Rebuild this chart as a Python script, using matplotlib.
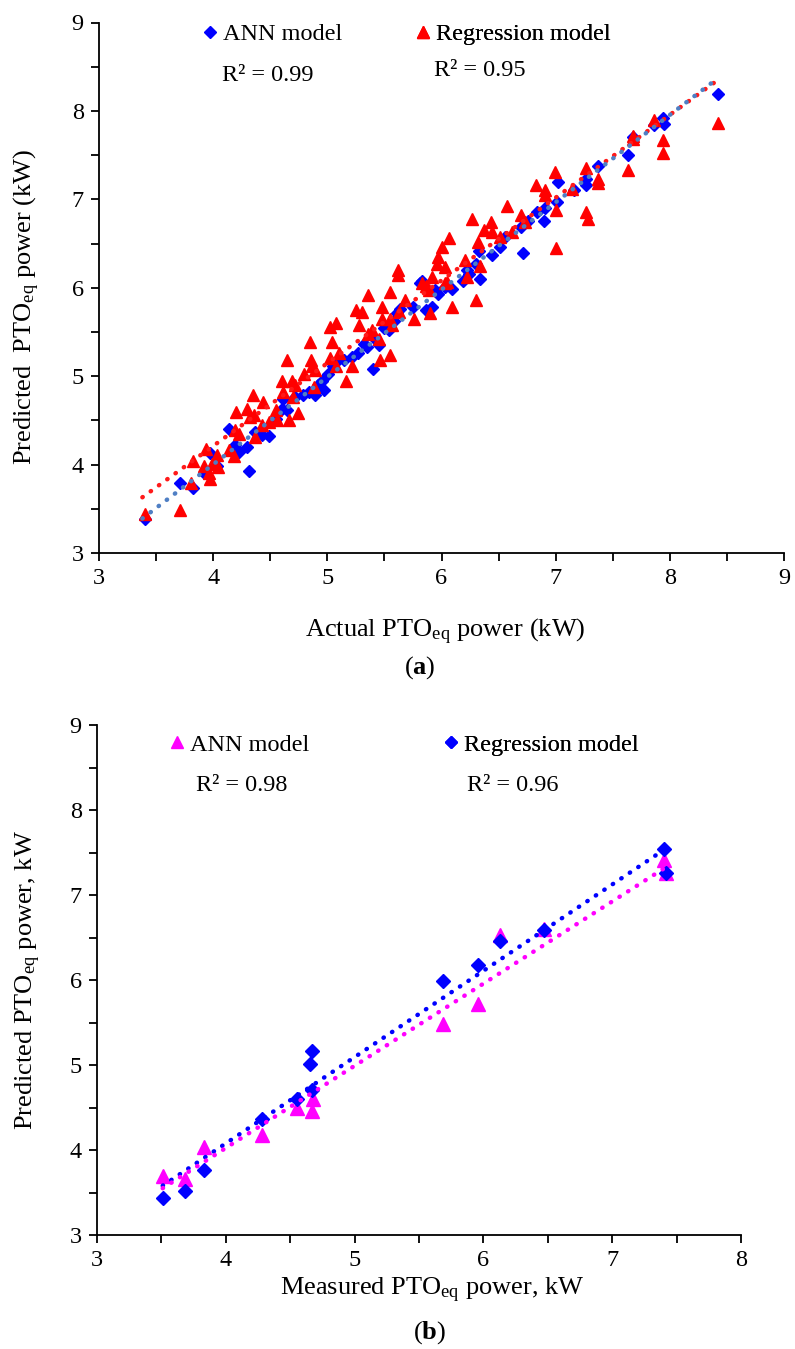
import matplotlib
matplotlib.use("Agg")
import matplotlib.pyplot as plt
from matplotlib.lines import Line2D
from matplotlib.ticker import MultipleLocator

plt.rcParams['font.family'] = ['Liberation Serif', 'DejaVu Serif']
plt.rcParams['mathtext.fontset'] = 'custom'
plt.rcParams['mathtext.rm'] = 'Liberation Serif'
plt.rcParams['mathtext.it'] = 'Liberation Serif:italic'
plt.rcParams['mathtext.bf'] = 'Liberation Serif:bold'

# ---------------- Panel (a) data ----------------
ann_a_x = [3.40, 3.71, 3.82, 3.92, 3.97, 4.03, 4.14, 4.19, 4.23, 4.30, 4.31, 4.37, 4.43, 4.49,
           4.55, 4.60, 4.65, 4.61, 4.72, 4.79, 4.84, 4.89, 4.92, 4.97, 5.01, 5.05, 5.08, 5.22,
           5.27, 5.40, 5.35, 5.45, 5.43, 5.54, 5.61, 5.64, 5.86, 5.92, 5.83, 5.81, 5.94, 5.97,
           6.03, 6.09, 6.19, 6.24, 6.30, 6.22, 6.34, 6.33, 6.44, 6.51, 6.56, 6.71, 6.70, 6.76,
           6.84, 6.90, 6.91, 7.01, 7.02, 7.16, 7.27, 7.27, 7.37, 7.63, 7.68, 7.94, 7.95, 7.86,
           8.42, 4.95, 5.15, 5.32, 5.50, 5.58, 5.75]
ann_a_y = [3.39, 3.79, 3.74, 3.90, 4.13, 3.98, 4.40, 4.22, 4.14, 4.20, 3.93, 4.37, 4.34, 4.32,
           4.52, 4.63, 4.62, 4.74, 4.77, 4.79, 4.82, 4.79, 4.90, 4.84, 5.03, 5.11, 5.16, 5.22,
           5.26, 5.08, 5.33, 5.35, 5.41, 5.52, 5.71, 5.76, 5.75, 5.78, 6.08, 6.05, 5.97, 5.93,
           6.01, 5.99, 6.08, 6.16, 6.27, 6.20, 6.10, 6.42, 6.37, 6.46, 6.57, 6.39, 6.69, 6.76,
           6.86, 6.76, 6.90, 6.97, 7.20, 7.10, 7.16, 7.23, 7.38, 7.50, 7.71, 7.92, 7.85, 7.84,
           8.19, 4.95, 5.18, 5.36, 5.55, 5.62, 5.78]

reg_a_x = [3.40, 3.71, 3.81, 3.82, 3.92, 3.94, 3.97, 3.96, 3.99, 4.03, 4.04, 4.14, 4.18, 4.19,
           4.23, 4.20, 4.30, 4.32, 4.35, 4.36, 4.37, 4.43, 4.44, 4.49, 4.55, 4.56, 4.60, 4.61,
           4.66, 4.69, 4.70, 4.74, 4.72, 4.80, 4.87, 4.88, 4.65, 4.85, 4.86, 4.89, 5.02, 5.08,
           5.04, 5.02, 5.08, 5.10, 5.16, 5.22, 5.25, 5.30, 5.28, 5.36, 5.36, 5.39, 5.46, 5.55,
           5.48, 5.48, 5.45, 5.55, 5.55, 5.57, 5.62, 5.62, 5.63, 5.68, 5.76, 5.83, 5.90, 5.92,
           5.97, 5.96, 6.03, 6.03, 6.09, 6.30, 6.22, 6.21, 5.89, 5.86, 6.34, 6.27, 6.32, 6.37,
           6.43, 6.44, 6.51, 6.57, 6.62, 6.70, 6.73, 6.83, 6.91, 6.91, 6.99, 7.00, 7.00, 7.27,
           7.27, 7.28, 7.37, 7.37, 7.63, 7.14, 6.05, 6.00, 6.07, 7.68, 7.68, 7.86, 7.94, 7.94,
           8.42]
reg_a_y = [3.44, 3.49, 3.79, 4.04, 3.98, 4.18, 3.84, 3.90, 4.01, 4.11, 3.97, 4.17, 4.10, 4.39,
           4.35, 4.59, 4.63, 4.54, 4.79, 4.56, 4.31, 4.45, 4.71, 4.48, 4.62, 4.50, 4.95, 4.82,
           4.50, 4.95, 4.77, 4.58, 4.90, 5.03, 5.12, 4.88, 5.18, 5.39, 5.18, 5.07, 5.56, 5.60,
           5.39, 5.20, 5.11, 5.26, 4.95, 5.11, 5.75, 5.73, 5.58, 5.92, 5.48, 5.52, 5.18, 5.95,
           5.78, 5.65, 5.42, 5.65, 5.24, 5.58, 6.20, 6.14, 5.73, 5.86, 5.65, 6.05, 5.71, 6.12,
           6.35, 6.27, 6.24, 6.05, 5.78, 5.86, 6.12, 6.31, 5.97, 6.02, 6.25, 6.78, 6.52, 6.65,
           6.74, 6.63, 6.57, 6.93, 6.63, 6.82, 6.74, 7.16, 7.10, 7.05, 7.31, 6.45, 6.88, 7.35,
           6.86, 6.78, 7.23, 7.18, 7.33, 7.12, 6.06, 6.46, 6.56, 7.72, 7.68, 7.90, 7.67, 7.52,
           7.86]

trend_a_x = [3.38, 8.40]
trend_a_ann = [3.39, 8.35]
trend_a_reg = [3.63, 8.33]

# ---------------- Panel (b) data ----------------
ann_b_x = [3.51, 3.68, 3.83, 4.28, 4.55, 4.67, 4.68, 5.69, 5.96, 6.13, 6.47, 7.40, 7.42]
ann_b_y = [3.70, 3.66, 4.03, 4.18, 4.50, 4.46, 4.60, 5.48, 5.72, 6.53, 6.60, 7.41, 7.26]

reg_b_x = [3.51, 3.68, 3.83, 4.28, 4.55, 4.67, 4.65, 4.67, 5.69, 5.96, 6.13, 6.47, 7.40, 7.42]
reg_b_y = [3.43, 3.52, 3.76, 4.36, 4.60, 4.71, 5.01, 5.16, 5.99, 6.18, 6.46, 6.59, 7.54, 7.26]

trend_b_x = [3.51, 7.42]
trend_b_ann = [3.55, 7.33]
trend_b_reg = [3.58, 7.55]

W, H = 795, 1349
fig = plt.figure(figsize=(W / 100, H / 100), dpi=100)

FS_TICK = 17.5
FS_LEG = 17.5
FS_LAB = 19

def style_axes(ax, xmax):
    for s in ('top', 'right'):
        ax.spines[s].set_visible(False)
    for s in ('left', 'bottom'):
        ax.spines[s].set_linewidth(1.3)
    ax.set_xlim(3, xmax)
    ax.set_ylim(3, 9)
    ax.xaxis.set_major_locator(MultipleLocator(1))
    ax.yaxis.set_major_locator(MultipleLocator(1))
    ax.xaxis.set_minor_locator(MultipleLocator(0.5))
    ax.yaxis.set_minor_locator(MultipleLocator(0.5))
    ax.tick_params(which='both', direction='out', length=6, width=1.3,
                   labelsize=FS_TICK, pad=5)

def key(ax, marker, color, ms, label, x, y):
    h = Line2D([], [], marker=marker, color=color, linestyle='none', markersize=ms)
    lg = ax.legend([h], [label], frameon=False, fontsize=FS_LEG, loc='center left',
                   bbox_to_anchor=(x, y), borderaxespad=0, borderpad=0,
                   handlelength=0.6, handletextpad=0.25)
    ax.add_artist(lg)

dot = dict(linestyle=(0, (0.1, 2.2)), linewidth=3.2, dash_capstyle='round')

# ---- (a)
ax1 = fig.add_axes([99 / W, 1 - 553 / H, 685 / W, 530.5 / H])
style_axes(ax1, 9)
ax1.plot(trend_a_x, trend_a_reg, color='#FF1A1A', zorder=4, **dot)
ax1.plot(trend_a_x, trend_a_ann, color='#4F7FC4', zorder=4, **dot)
ax1.plot(ann_a_x, ann_a_y, 'D', color='#0000FF', markersize=6, linestyle='none', zorder=3)
ax1.plot(reg_a_x, reg_a_y, '^', color='#FF0000', markersize=8, linestyle='none', zorder=3)
ax1.set_xlabel('Actual PTO$_{\\mathrm{eq}}$ power (kW)', fontsize=FS_LAB)
ax1.xaxis.set_label_coords(0.505, -0.12)
ax1.set_ylabel('Predicted  PTO$_{\\mathrm{eq}}$ power (kW)', fontsize=FS_LAB)
ax1.yaxis.set_label_coords(-0.083, 0.465)
key(ax1, 'D', '#0000FF', 6, 'ANN model', 0.151, 0.978)
key(ax1, '^', '#FF0000', 8, 'Regression model', 0.462, 0.978)
ax1.text(0.18, 0.901, 'R² = 0.99', transform=ax1.transAxes, fontsize=FS_LEG, ha='left', va='center')
ax1.text(0.489, 0.909, 'R² = 0.95', transform=ax1.transAxes, fontsize=FS_LEG, ha='left', va='center')
fig.text(420 / W, 1 - 668 / H, '($\\mathbf{a}$)', ha='center', va='center', fontsize=FS_LAB)

# ---- (b)
ax2 = fig.add_axes([97 / W, 1 - 1235 / H, 644 / W, 510 / H])
style_axes(ax2, 8)
ax2.plot(trend_b_x, trend_b_reg, color='#0000FF', zorder=4, **dot)
ax2.plot(trend_b_x, trend_b_ann, color='#FF00FF', zorder=4, **dot)
ax2.plot(ann_b_x, ann_b_y, '^', color='#FF00FF', markersize=10, linestyle='none', zorder=3)
ax2.plot(reg_b_x, reg_b_y, 'D', color='#0000FF', markersize=7.5, linestyle='none', zorder=3)
ax2.set_xlabel('Measured PTO$_{\\mathrm{eq}}$ power, kW', fontsize=FS_LAB)
ax2.xaxis.set_label_coords(0.52, -0.08)
ax2.set_ylabel('Predicted PTO$_{\\mathrm{eq}}$ power, kW', fontsize=FS_LAB)
ax2.yaxis.set_label_coords(-0.084, 0.5)
key(ax2, '^', '#FF00FF', 8, 'ANN model', 0.113, 0.961)
key(ax2, 'D', '#0000FF', 6, 'Regression model', 0.538, 0.961)
ax2.text(0.154, 0.882, 'R² = 0.98', transform=ax2.transAxes, fontsize=FS_LEG, ha='left', va='center')
ax2.text(0.574, 0.882, 'R² = 0.96', transform=ax2.transAxes, fontsize=FS_LEG, ha='left', va='center')
fig.text(430 / W, 1 - 1333 / H, '($\\mathbf{b}$)', ha='center', va='center', fontsize=FS_LAB)

fig.savefig('out.png', dpi=100)
